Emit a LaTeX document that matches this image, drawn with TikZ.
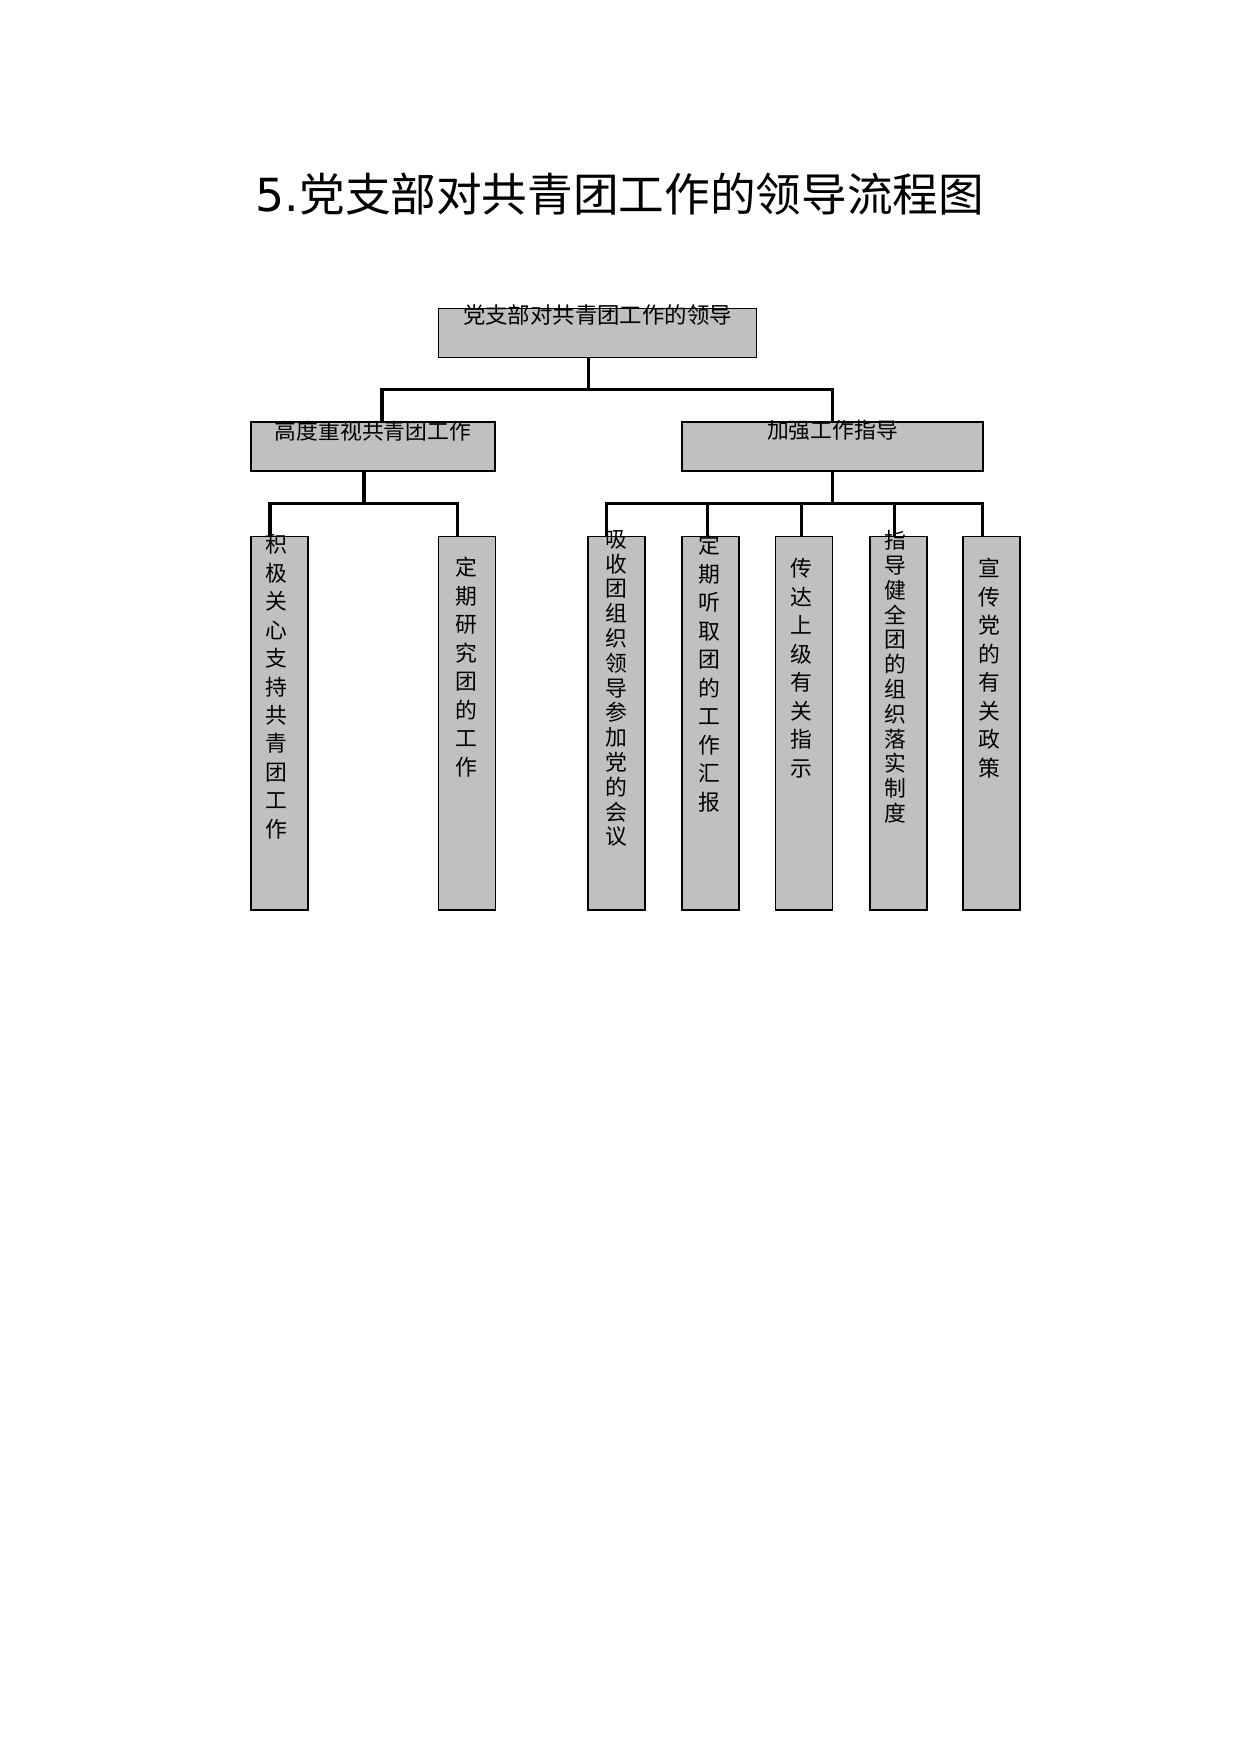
\documentclass[tikz,border=0pt]{standalone}
\usepackage{fontspec}
\usepackage{tikz}
\setmainfont{Noto Sans CJK SC}
\newfontfamily\dejavu{DejaVu Sans}
\definecolor{boxgray}{HTML}{C0C0C0}
\newcommand\pxl{0.169355mm}
\tikzset{
    box/.style={draw=black, line width=0.7pt, fill=boxgray, inner sep=0pt},
    boxtext/.style={inner sep=0pt, font=\fontsize{10.5pt}{13pt}\selectfont},
    link/.style={line width=1.5pt}
}

\begin{document}
\begin{tikzpicture}[x=0.169355mm, y=-0.169355mm]
        \useasboundingbox (0,0) rectangle (1240,1754);
        \node[inner sep=0pt, font=\fontsize{22pt}{26pt}\selectfont] (title) at (620,194) {{\dejavu 5.}党支部对共青团工作的领导流程图};

        \node[box, minimum width=318.5*\pxl, minimum height=48.5*\pxl] (top) at (597.5,333) {};
        \node[inner sep=0pt, font=\fontsize{10.8pt}{14pt}\selectfont, anchor=north] (toptext) at ([yshift=3.4*\pxl]top.north) {党支部对共青团工作的领导};
        \node[box, minimum width=244*\pxl, minimum height=49*\pxl] (lead1) at (373,446.5) {};
        \node[box, minimum width=301*\pxl, minimum height=49*\pxl] (lead2) at (832.5,446.5) {};
        \node[boxtext, anchor=north] (leadtext1) at ([yshift=1*\pxl]lead1.north) {高度重视共青团工作};
        \node[boxtext, anchor=north] (leadtext2) at ([yshift=1*\pxl]lead2.north) {加强工作指导};

        \foreach \n/\cx/\tx/\ty/\sk/\txt in {
            1/279.5/276.7/534/13.73/{积\\极\\关\\心\\支\\持\\共\\青\\团\\工\\作},
            2/467/466.7/557/13.73/{定\\期\\研\\究\\团\\的\\工\\作},
            3/616.7/616.7/530/11.95/{吸\\收\\团\\组\\织\\领\\导\\参\\加\\党\\的\\会\\议},
            4/710.5/709/535/13.73/{定\\期\\听\\取\\团\\的\\工\\作\\汇\\报},
            5/804.2/801.7/558/13.73/{传\\达\\上\\级\\有\\关\\指\\示},
            6/898.5/895/530/11.95/{指\\导\\健\\全\\团\\的\\组\\织\\落\\实\\制\\度},
            7/991.7/989.3/558/13.73/{宣\\传\\党\\的\\有\\关\\政\\策}}{
            \node[box, minimum width=57*\pxl, minimum height=373.5*\pxl] (item\n) at (\cx,723.3) {};
            \node[boxtext, align=center, anchor=north, font=\fontsize{10.5pt}{\sk pt}\selectfont] (itemtext\n) at (\tx,\ty) {\txt};
        }

        \coordinate (fork0) at (588.5,389.5);
        \coordinate (fork1) at (364,503.5);
        \coordinate (fork2) at (832.5,503.5);
        \draw[link] (top.south -| fork0) -- (fork0);
        \draw[link] ([xshift=9*\pxl]lead1.north) |- (fork0) -| (lead2.north);
        \draw[link] (lead1.south -| fork1) -- (fork1);
        \draw[link] ([xshift=-9.5*\pxl]item1.north) |- (fork1) -| ([xshift=-9.7*\pxl]item2.north);
        \draw[link] (lead2.south) -- (fork2);
        \draw[link] ([xshift=-10*\pxl]item3.north) |- (fork2) -| ([xshift=-9*\pxl]item7.north);
        \foreach \n/\dx in {4/-2.8, 5/-3, 6/-4.2}
            \draw[link] ([xshift=\dx*\pxl]item\n.north) -- ++(0,-33);
    \end{tikzpicture}
\end{document}
